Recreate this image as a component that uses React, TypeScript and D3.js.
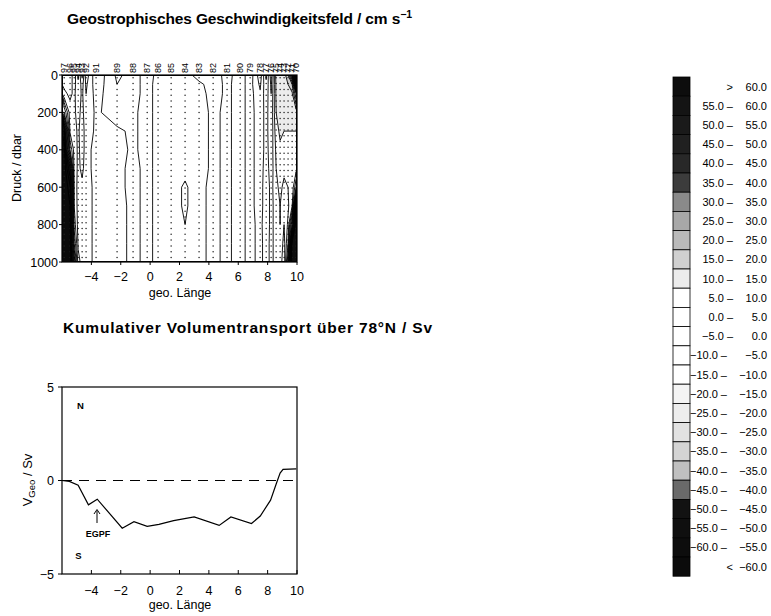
import React from 'react';
import * as d3 from 'd3';

// ---------- data ----------
const stationLabels = ['97','96','95','94','93','92','91','89','88','87','86','85','84','83','82','81','80','79','78','77','76','75','74','73','72','71','70'];
const stationLon = [-5.85,-5.45,-5.17,-4.9,-4.63,-4.36,-3.68,-2.25,-1.16,-0.2,0.54,1.43,2.38,3.33,4.29,5.24,6.13,6.81,7.49,7.9,8.24,8.58,8.85,9.12,9.39,9.67,9.94];
const depthLevels = [0,50,100,200,300,400,500,600,700,800,900,1000];
// geostrophic velocity (cm/s) per station (rows) and depth level (columns)
const velocity = [
  [ 2,  1, -1,-20,-55,-62,-64,-66,-68,-70,-70,-70],
  [ 3,  2,  1, -2, -4,-15,-45,-56,-60,-62,-64,-66],
  [-3, -2, -1, -1, -2, -3, -3, -4, -5, -8,-15,-30],
  [ 6,  4,  3,  2,  1,  1,  1,  2,  2,  2,  1, -2],
  [-6, -2, -1, -2, -3, -2, -1,  1,  2,  2,  2,  2],
  [ 8,  6,  5,  4,  3,  2,  2,  3,  3,  3,  3,  3],
  [-4, -3, -2, -1, -1, -2, -2, -2, -2, -2, -2, -2],
  [ 6,  5,  4,  3, -1, -2, -2, -2, -3, -3, -3, -3],
  [ 3,  2,  2,  1,  1,  1,  2,  2,  2,  2,  2,  2],
  [-3, -2, -2, -2, -2, -2, -2, -2, -2, -2, -2, -2],
  [ 2,  2,  2,  2,  2,  2,  2,  2,  2,  2,  2,  2],
  [ 3,  3,  2,  2,  2,  2,  2,  2,  2,  2,  2,  2],
  [ 2,  2,  2,  2,  2,  2,  3,  6,  6,  5,  2,  2],
  [-2,  1,  2,  2,  2,  2,  2,  1,  1,  1,  1,  1],
  [-3, -2, -2, -1, -1, -1, -1, -1, -1, -1, -1, -1],
  [ 2,  1,  1,  1,  1,  1,  1,  1,  1,  1,  1,  1],
  [-3, -2, -2, -2, -2, -2, -2, -2, -2, -2, -2, -2],
  [ 3,  2,  2,  2,  2,  2,  2,  2,  2,  2,  2,  2],
  [-8, -6, -4, -3, -3, -3, -3, -3, -3, -2, -2, -2],
  [ 6,  4,  3,  2,  2,  2,  3,  4,  4,  4,  3,  3],
  [-8, -6, -5, -4, -4, -3, -3, -2, -2, -2, -2, -2],
  [12, 11, 11, 10,  8,  6,  5,  4,  3,  3,  3,  3],
  [14, 13, 12, 11, 11,  9,  7,  6,  5,  5,  4,  3],
  [12, 12, 11, 11, 10,  8,  6,  4,  2,  0, -2, -4],
  [20, 15, 13, 12, 10,  8,  6,  5,  4,  6, 10, 20],
  [40, 20, 14, 12, 10,  8,  6,  6, 10, 30, 62, 66],
  [65, 60, 30, 12, 10,  8,  8, 20, 60, 66, 68, 70],
];
const lonTicks = [-4,-2,0,2,4,6,8,10];
const depthTicks = [0,200,400,600,800,1000];
const svTicks = [-5,0,5];

// cumulative volume transport
const transportLon = [-6.0,-5.5,-4.9,-4.2,-3.6,-1.9,-1.1,-0.2,0.6,1.6,3.0,4.7,5.5,6.9,7.5,8.2,8.6,8.85,9.05,9.95];
const transportSv  = [0,-0.05,-0.25,-1.3,-1.0,-2.55,-2.2,-2.45,-2.35,-2.15,-1.95,-2.4,-1.95,-2.3,-1.9,-1.05,-0.15,0.4,0.6,0.62];

// legend classes (top to bottom)
const bandColors = ['#0d0d0d','#141414','#1a1a1a','#202020','#282828','#3c3c3c','#8a8a8a','#a8a8a8','#bababa','#d0d0d0','#ececec',
  '#ffffff','#ffffff','#ffffff','#ffffff','#ffffff','#f4f4f4','#ededed','#e2e2e2','#d4d4d4','#c0c0c0','#6a6a6a','#121212','#0f0f0f','#0d0d0d','#0b0b0b'];
const thresholds = d3.range(-60, 61, 5);

const FONT = "'Liberation Sans', Arial, Helvetica, sans-serif";

export default function App() {
  const x = d3.scaleLinear().domain([-6, 10]).range([62, 297]);
  const yTop = d3.scaleLinear().domain([0, 1000]).range([75, 262]);
  const yBot = d3.scaleLinear().domain([-5, 5]).range([574, 387]);

  const nx = stationLon.length, ny = depthLevels.length;
  const grid: number[] = new Array(nx * ny);
  for (let j = 0; j < ny; j++) for (let i = 0; i < nx; i++) grid[j * nx + i] = velocity[i][j];
  const contours = d3.contours().size([nx, ny]).thresholds(thresholds)(grid);
  const xIdx = d3.scaleLinear().domain([0, ...stationLon.map((_, i) => i + 0.5), nx]).range([-6, ...stationLon, 10]);
  const yIdx = d3.scaleLinear().domain([0, ...depthLevels.map((_, i) => i + 0.5), ny]).range([0, ...depthLevels, 1000]);
  const proj = d3.geoTransform({
    point(px: number, py: number) {
      (this as any).stream.point(x(xIdx(px)), yTop(yIdx(py)));
    },
  });
  const path = d3.geoPath(proj as any);
  const bandIndex = (t: number) => Math.round((60 - t) / 5);

  const sampleDepths = d3.range(15, 1000, 31);

  const line = d3.line<number>().x((_, i) => x(transportLon[i])).y((d) => yBot(d));
  const fmt = (v: number) => d3.format('.1f')(v);

  const legendTop = 77, rowH = 19.2;

  return (
    <svg width={771} height={616} style={{ position: 'absolute', left: 0, top: 0, background: '#fff' }} fontFamily={FONT}>
      <defs>
        <clipPath id="topclip"><rect x={62} y={75} width={235} height={187} /></clipPath>
      </defs>
      {/* Title 1 */}
      <text x={67} y={24} fontSize={15.5} fontWeight="bold" textLength={345} lengthAdjust="spacing">
        Geostrophisches Geschwindigkeitsfeld / cm s<tspan dy={-6} fontSize={10.5}>−1</tspan>
      </text>

      {/* Top chart field */}
      <g clipPath="url(#topclip)">
        <rect x={62} y={75} width={235} height={187} fill={bandColors[25]} />
        {contours.map((c, k) => (
          <path key={'f' + k} d={path(c as any) || ''} fill={bandColors[bandIndex(c.value)]} stroke="none" />
        ))}
        {stationLon.map((lon, i) =>
          sampleDepths.map((d, j) => (
            <circle key={'d' + i + '_' + j} cx={x(lon)} cy={yTop(d)} r={0.75} fill="#222" />
          ))
        )}
        {contours.map((c, k) => (
          <path key={'l' + k} d={path(c as any) || ''} fill="none" stroke="#000" strokeWidth={0.9} />
        ))}
      </g>
      <rect x={62} y={75} width={235} height={187} fill="none" stroke="#000" strokeWidth={1.2} />
      {/* station labels */}
      {stationLon.map((lon, i) => (
        <text key={'s' + i} transform={`translate(${x(lon) + 3.2},73) rotate(-90)`} fontSize={9}>{stationLabels[i]}</text>
      ))}
      {/* top axes */}
      {depthTicks.map((d) => (
        <g key={'dt' + d}>
          <line x1={59} x2={62} y1={yTop(d)} y2={yTop(d)} stroke="#000" />
          <text x={58} y={yTop(d) + 4.5} fontSize={12.5} textAnchor="end">{d}</text>
        </g>
      ))}
      {lonTicks.map((t) => (
        <g key={'xt' + t}>
          <line x1={x(t)} x2={x(t)} y1={262} y2={265} stroke="#000" />
          <text x={x(t)} y={281} fontSize={12.5} textAnchor="middle">{t < 0 ? '−' + Math.abs(t) : t}</text>
        </g>
      ))}
      <text x={180} y={297} fontSize={12.5} textAnchor="middle">geo. Länge</text>
      <text transform="translate(21,168) rotate(-90)" fontSize={12.5} textAnchor="middle">Druck / dbar</text>

      {/* Title 2 */}
      <text x={63} y={333} fontSize={15.5} fontWeight="bold" textLength={369} lengthAdjust="spacing">Kumulativer Volumentransport über 78°N / Sv</text>

      {/* Bottom chart */}
      <line x1={62} x2={297} y1={yBot(0)} y2={yBot(0)} stroke="#000" strokeWidth={1} strokeDasharray="10,7" />
      <path d={line(transportSv) || ''} fill="none" stroke="#000" strokeWidth={1.2} />
      <rect x={62} y={387} width={235} height={187} fill="none" stroke="#000" strokeWidth={1.2} />
      {svTicks.map((t) => (
        <g key={'yt' + t}>
          <line x1={58} x2={62} y1={yBot(t)} y2={yBot(t)} stroke="#000" />
          <text x={54} y={yBot(t) + 4.5} fontSize={12.5} textAnchor="end">{t < 0 ? '−' + Math.abs(t) : t}</text>
        </g>
      ))}
      {lonTicks.map((t) => (
        <g key={'bx' + t}>
          <line x1={x(t)} x2={x(t)} y1={574} y2={570} stroke="#000" />
          <text x={x(t)} y={595} fontSize={12.5} textAnchor="middle">{t < 0 ? '−' + Math.abs(t) : t}</text>
        </g>
      ))}
      <text x={180} y={609} fontSize={12.5} textAnchor="middle">geo. Länge</text>
      <text transform="translate(32,480) rotate(-90)" fontSize={13} textAnchor="middle">
        V<tspan dy={3} fontSize={9.5}>Geo</tspan><tspan dy={-3}> / Sv</tspan>
      </text>
      <text x={80.5} y={409} fontSize={9.5} fontWeight="bold" textAnchor="middle">N</text>
      <text x={78.5} y={559} fontSize={9.5} fontWeight="bold" textAnchor="middle">S</text>
      <line x1={97} x2={97} y1={523} y2={511} stroke="#000" strokeWidth={1} />
      <path d="M94,514 L97,509.5 L100,514" fill="none" stroke="#000" strokeWidth={1} />
      <text x={98} y={537} fontSize={9} fontWeight="bold" textAnchor="middle">EGPF</text>

      {/* Legend */}
      {bandColors.map((c, i) => {
        const yy = legendTop + i * rowH;
        const cy = yy + rowH / 2 + 4;
        const lo = 60 - 5 * i;
        return (
          <g key={'lg' + i}>
            <rect x={673} y={yy} width={17} height={rowH} fill={c} stroke="#000" strokeWidth={0.8} />
            {i === 0 ? (
              <>
                <text x={733} y={cy} fontSize={11} textAnchor="end">&gt;</text>
                <text x={767} y={cy} fontSize={11} textAnchor="end">{fmt(60)}</text>
              </>
            ) : i === 25 ? (
              <>
                <text x={733} y={cy} fontSize={11} textAnchor="end">&lt;</text>
                <text x={767} y={cy} fontSize={11} textAnchor="end">{fmt(-60)}</text>
              </>
            ) : (
              <>
                <text x={lo <= -10 ? 727 : 733} y={cy} fontSize={11} textAnchor="end">{fmt(lo) + ' –'}</text>
                <text x={767} y={cy} fontSize={11} textAnchor="end">{fmt(lo + 5)}</text>
              </>
            )}
          </g>
        );
      })}
    </svg>
  );
}
